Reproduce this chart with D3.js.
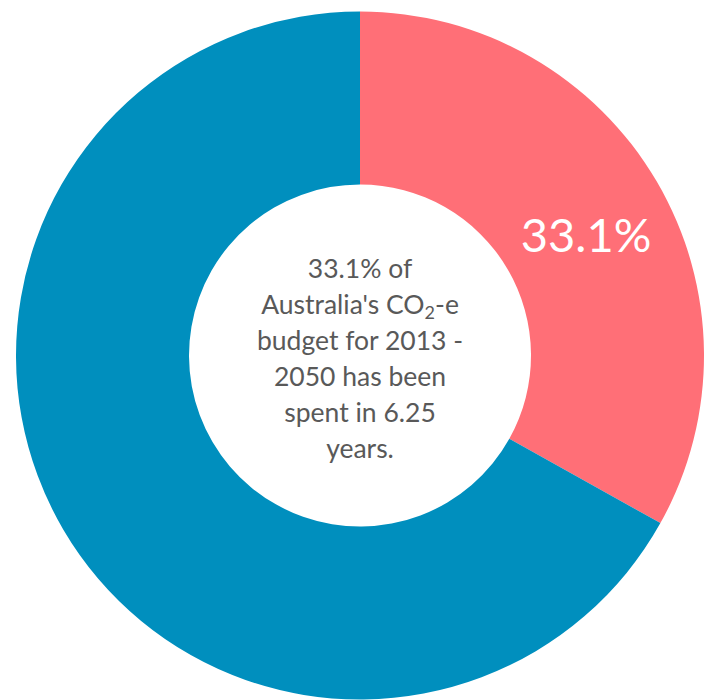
<!DOCTYPE html>
<html>
<head>
<meta charset="utf-8">
<script src="https://cdn.jsdelivr.net/npm/d3@7"></script>
<style>
  html, body { margin: 0; padding: 0; background: #ffffff; }
  svg { display: block; }
</style>
</head>
<body>
<svg id="chart" width="710" height="700"></svg>
<script>
// Share of the 2013-2050 CO2-e budget
const categories = ["Spent", "Remaining"];
const values = [33.1, 66.9];
const colors = ["#FF6F77", "#008FBE"];
const sliceLabels = ["33.1%", ""];
const centerLines = [
  [{ t: "33.1% of" }],
  [{ t: "Australia's CO" }, { t: "2", sub: true }, { t: "-e", after: true }],
  [{ t: "budget for 2013 -" }],
  [{ t: "2050 has been" }],
  [{ t: "spent in 6.25" }],
  [{ t: "years." }]
];

const width = 710, height = 700;
const cx = 360, cy = 355.5;
const outerR = 344, innerR = 171;

const svg = d3.select("#chart");
const g = svg.append("g").attr("transform", `translate(${cx},${cy})`);

const pie = d3.pie().sort(null).value(d => d.value);
const arc = d3.arc().innerRadius(innerR).outerRadius(outerR);

const data = categories.map((c, i) => ({ name: c, value: values[i], color: colors[i], label: sliceLabels[i] }));
const arcs = pie(data);

g.selectAll("path.slice")
  .data(arcs)
  .join("path")
  .attr("class", "slice")
  .attr("d", arc)
  .attr("fill", d => d.data.color);

g.selectAll("text.slice-label")
  .data(arcs.filter(d => d.data.label))
  .join("text")
  .attr("class", "slice-label")
  .attr("transform", d => {
    const [x, y] = arc.centroid(d);
    return `translate(${x + 4},${y + 10})`;
  })
  .attr("text-anchor", "middle")
  .attr("dy", "0.36em")
  .attr("fill", "#ffffff")
  .style("font-family", "Lato, 'Open Sans', sans-serif")
  .style("font-size", "47px")
  .text(d => d.data.label);

// Centre note
const lineH = 36;
const firstY = 268 - cy;
const note = g.append("text")
  .attr("text-anchor", "middle")
  .attr("fill", "#595959")
  .style("font-family", "Lato, 'Open Sans', sans-serif")
  .style("font-size", "26.5px");

centerLines.forEach((parts, i) => {
  const line = note.append("tspan")
    .attr("x", 0)
    .attr("y", firstY + i * lineH)
    .attr("dy", "0.36em");
  parts.forEach(p => {
    const s = line.append("tspan").text(p.t);
    if (p.sub) s.style("font-size", "18px").attr("dy", "5");
    if (p.after) s.attr("dy", "-5");
  });
});
</script>
</body>
</html>
